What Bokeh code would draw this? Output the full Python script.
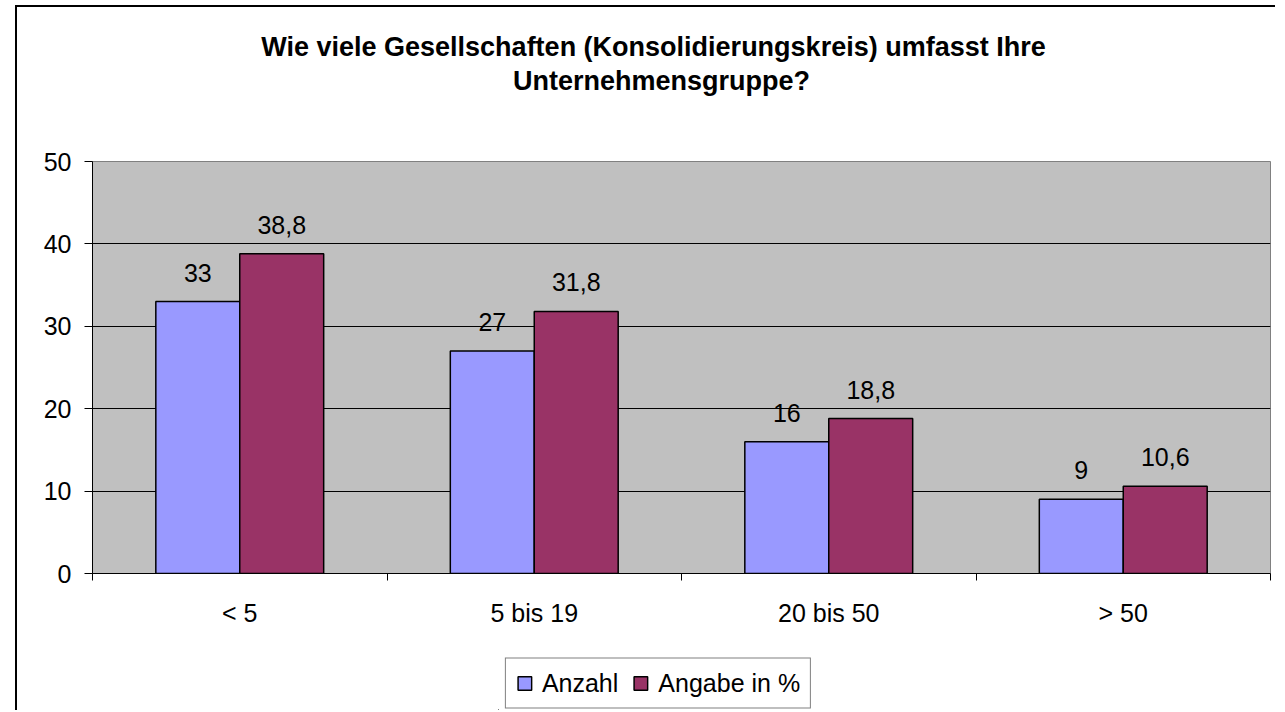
from bokeh.plotting import figure
from bokeh.models import (Range1d, LinearAxis, FixedTicker, ColumnDataSource, Label)
from bokeh.transform import dodge
from bokeh.core.properties import value
from bokeh.embed import file_html
from bokeh.resources import INLINE

# ---- data ----
categories = ["< 5", "5 bis 19", "20 bis 50", "> 50"]
anzahl = [33, 27, 16, 9]
angabe = [38.8, 31.8, 18.8, 10.6]
anzahl_labels = ["33", "27", "16", "9"]
angabe_labels = ["38,8", "31,8", "18,8", "10,6"]
y_ticks = [0, 10, 20, 30, 40, 50]
title_lines = ["Wie viele Gesellschaften (Konsolidierungskreis) umfasst Ihre",
               "Unternehmensgruppe?"]
series_names = ["Anzahl", "Angabe in %"]

FONT = "Liberation Sans"
C1 = "#9999FF"
C2 = "#993366"

n = len(categories)
pos = list(range(n))
bounds = [i - 0.5 for i in range(n + 1)]
src = ColumnDataSource(dict(x=pos, a=anzahl, b=angabe,
                            la=anzahl_labels, lb=angabe_labels))

W, H = 1260, 705
p = figure(x_range=Range1d(-0.5, n - 0.5), y_range=Range1d(0, 50),
           width=W, height=H, output_backend="svg", toolbar_location=None,
           x_axis_location=None, y_axis_location="left", title=None,
           min_border_left=75, min_border_right=7, min_border_top=154,
           min_border_bottom=139)
p.styles = {"border-left": "2px solid #000", "border-top": "2px solid #000",
            "margin-left": "15px", "margin-top": "5px"}

p.background_fill_color = "#C0C0C0"
p.border_fill_color = "white"
p.outline_line_color = "#808080"
p.outline_line_width = 1

# y axis
yax = p.yaxis[0]
yax.ticker = FixedTicker(ticks=y_ticks)
yax.major_tick_out = 8
yax.major_tick_in = 0
yax.minor_tick_line_color = None
yax.axis_line_color = "black"
yax.major_tick_line_color = "black"
yax.major_label_text_font = FONT
yax.major_label_text_font_size = "25px"
yax.major_label_text_color = "black"
yax.major_label_standoff = 13

p.ygrid.grid_line_color = "black"
p.ygrid.grid_line_width = 1
p.ygrid.ticker = FixedTicker(ticks=y_ticks)
p.xgrid.grid_line_color = None

# x axis: labels at category centres, minor ticks at category boundaries
xax = LinearAxis(ticker=FixedTicker(ticks=pos, minor_ticks=bounds),
                 major_label_overrides={i: c for i, c in zip(pos, categories)})
xax.axis_line_color = "black"
xax.major_tick_line_color = None
xax.major_tick_out = 0
xax.major_tick_in = 0
xax.minor_tick_line_color = "black"
xax.minor_tick_out = 7
xax.minor_tick_in = 0
xax.major_label_text_font = FONT
xax.major_label_text_font_size = "25px"
xax.major_label_text_color = "black"
xax.major_label_standoff = 18
p.add_layout(xax, "below")

# bars
bw = 0.285
off = bw / 2
p.vbar(x=dodge("x", -off), top="a", width=bw, source=src,
       fill_color=C1, line_color="black", line_width=1.5)
p.vbar(x=dodge("x", off), top="b", width=bw, source=src,
       fill_color=C2, line_color="black", line_width=1.5)

# data labels
p.text(x=dodge("x", -off), y="a", text="la", source=src,
       text_align="center", text_baseline="alphabetic", y_offset=-29,
       text_font=value(FONT), text_font_size="25px", text_color="black")
p.text(x=dodge("x", off), y="b", text="lb", source=src,
       text_align="center", text_baseline="alphabetic", y_offset=-29,
       text_font=value(FONT), text_font_size="25px", text_color="black")

# title: a small companion figure positioned above the plot area
tp = figure(width=900, height=110, output_backend="svg", toolbar_location=None,
            x_range=Range1d(0, 1), y_range=Range1d(0, 1),
            x_axis_location=None, y_axis_location=None, title=None,
            min_border=0, outline_line_color=None)
tp.styles = {"position": "absolute", "left": "200px", "top": "20px"}
tp.grid.visible = False
tp.background_fill_alpha = 0
tp.border_fill_alpha = 0
for txt, xv, yv in zip(title_lines, [0.5033, 0.5122], [0.7636, 0.4545]):
    tp.add_layout(Label(x=xv, y=yv, text=txt, text_align="center",
                        text_baseline="alphabetic", text_font=FONT,
                        text_font_size="27px", text_font_style="bold",
                        text_color="black"))

# legend: a small companion figure positioned under the plot area
lp = figure(width=320, height=54, output_backend="svg", toolbar_location=None,
            x_range=Range1d(100, 101), y_range=Range1d(100, 101),
            x_axis_location=None, y_axis_location=None, title=None,
            min_border=0, outline_line_color=None)
lp.styles = {"position": "absolute", "left": "498px", "top": "656px"}
lp.grid.visible = False
lp.background_fill_color = "white"
lp.border_fill_color = "white"
lp.vbar(x=dodge("x", -off), top="a", width=bw, source=src,
        fill_color=C1, line_color="black", line_width=1.5, legend_label=series_names[0])
lp.vbar(x=dodge("x", off), top="b", width=bw, source=src,
        fill_color=C2, line_color="black", line_width=1.5, legend_label=series_names[1])
lg = lp.legend[0]
lg.orientation = "horizontal"
lg.location = "center"
lg.glyph_width = 17
lg.glyph_height = 17
lg.label_standoff = 9
lg.spacing = 14
lg.padding = 10
lg.margin = 0
lg.label_text_font = FONT
lg.label_text_font_size = "25px"
lg.label_text_color = "black"
lg.border_line_color = "black"
lg.border_line_width = 1
lg.background_fill_color = "white"
lg.background_fill_alpha = 1

open("out.html", "w").write(file_html([p, tp, lp], INLINE))
